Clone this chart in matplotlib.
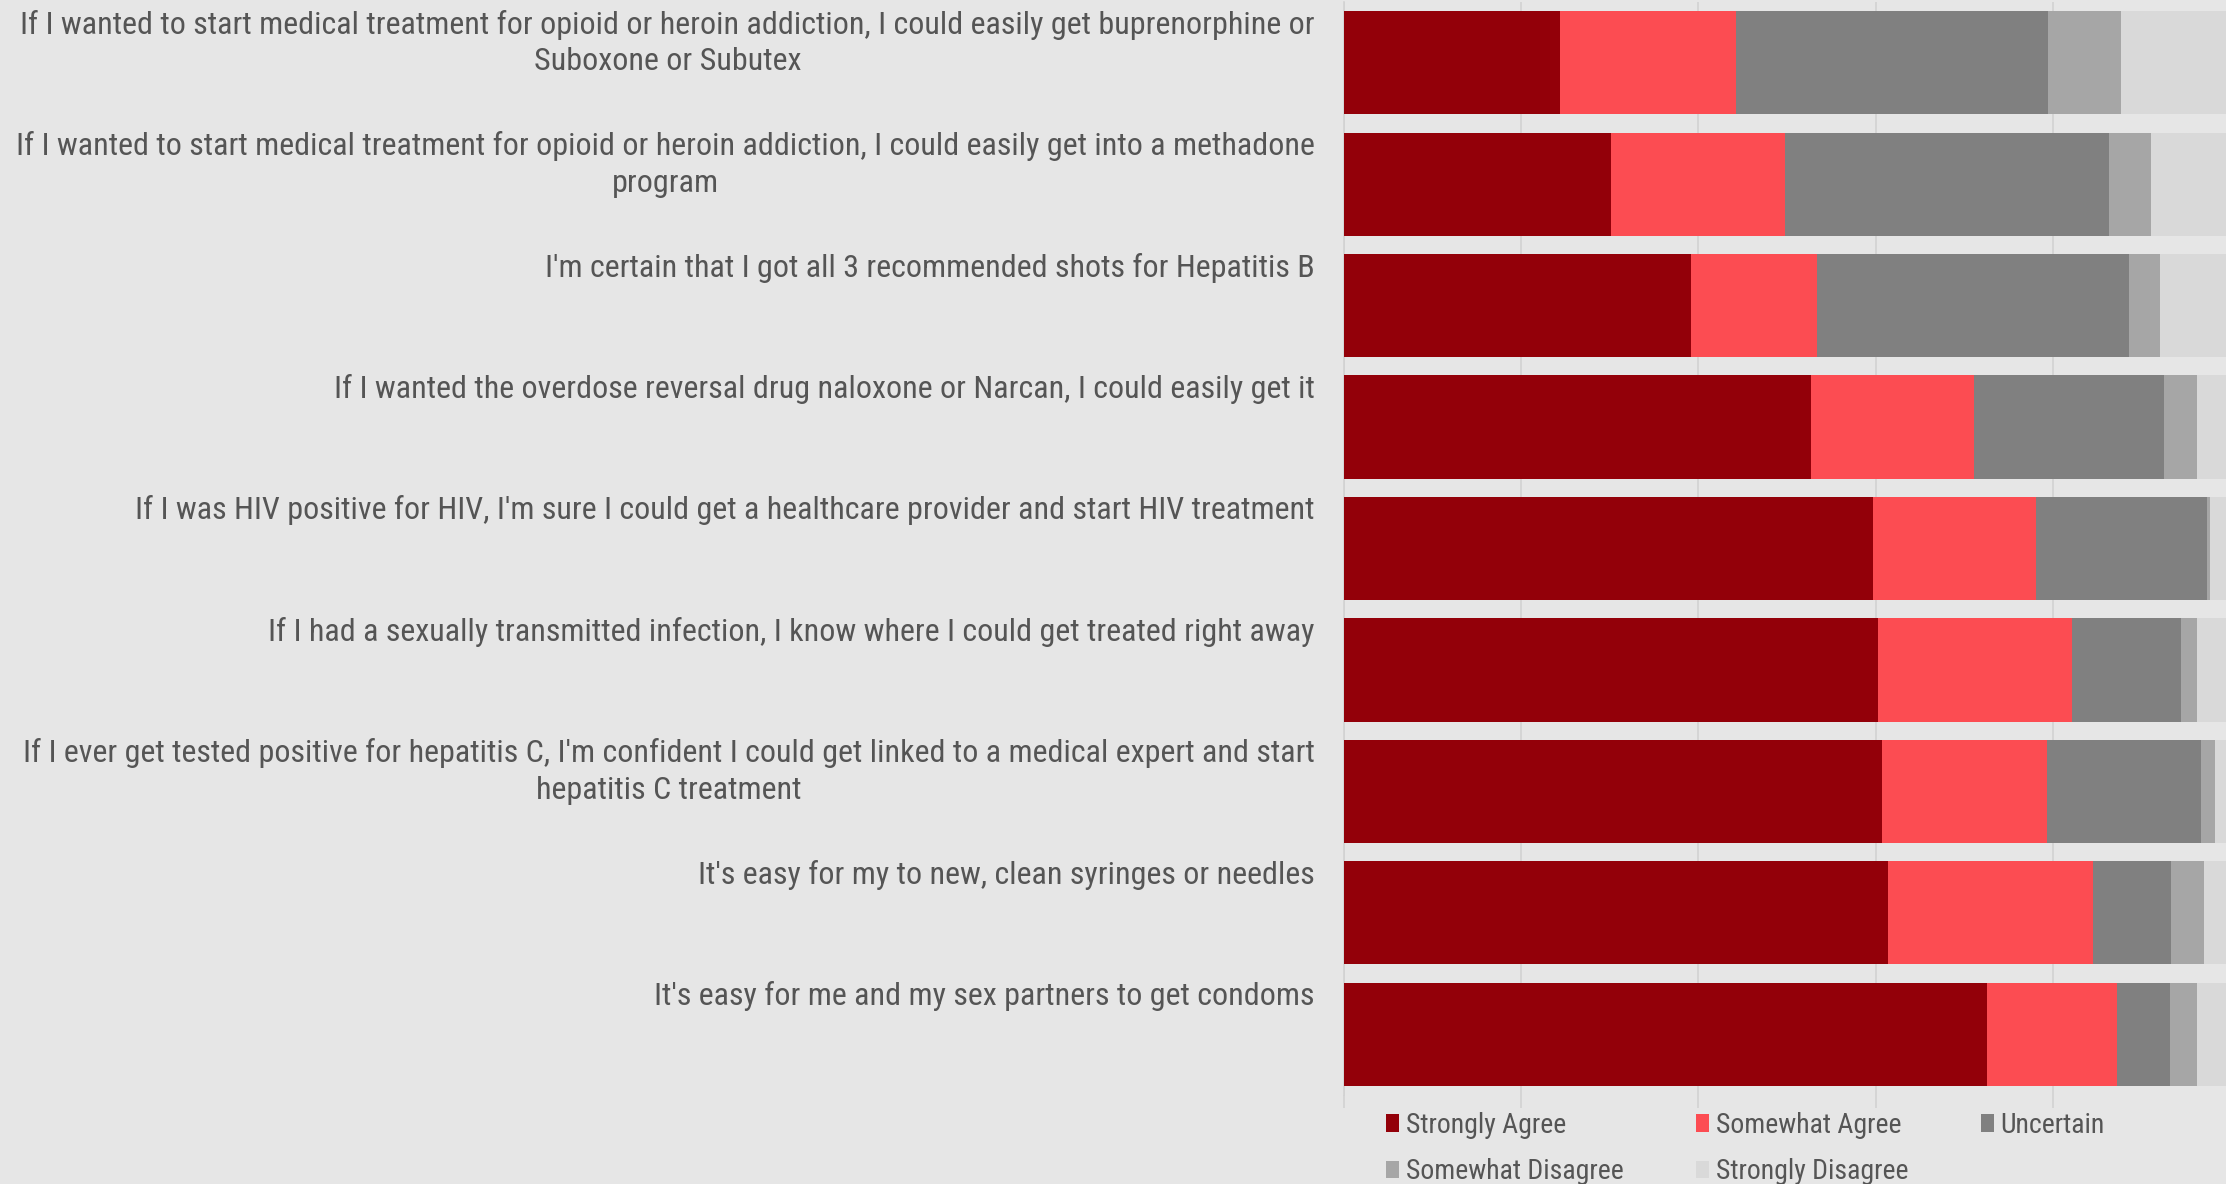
import matplotlib
matplotlib.use("Agg")
import matplotlib.pyplot as plt
from matplotlib.patches import Patch
import numpy as np

plt.rcParams['font.family'] = ['Roboto Condensed', 'Liberation Sans Narrow', 'Roboto', 'DejaVu Sans']

categories = [
    "If I wanted to start medical treatment for opioid or heroin addiction, I could easily get buprenorphine or\nSuboxone or Subutex",
    "If I wanted to start medical treatment for opioid or heroin addiction, I could easily get into a methadone\nprogram",
    "I'm certain that I got all 3 recommended shots for Hepatitis B",
    "If I wanted the overdose reversal drug naloxone or Narcan, I could easily get it",
    "If I was HIV positive for HIV, I'm sure I could get a healthcare provider and start HIV treatment",
    "If I had a sexually transmitted infection, I know where I could get treated right away",
    "If I ever get tested positive for hepatitis C, I'm confident I could get linked to a medical expert and start\nhepatitis C treatment",
    "It's easy for my to new, clean syringes or needles",
    "It's easy for me and my sex partners to get condoms",
]
series_names = ["Strongly Agree", "Somewhat Agree", "Uncertain", "Somewhat Disagree", "Strongly Disagree"]
strongly_agree = [24.4, 30.1, 39.2, 52.7, 59.7, 60.3, 60.7, 61.4, 72.6]
somewhat_agree = [19.8, 19.7, 14.2, 18.4, 18.4, 21.9, 18.7, 23.1, 14.7]
uncertain = [35.3, 36.5, 35.2, 21.4, 19.3, 12.3, 17.3, 8.8, 5.9]
somewhat_disagree = [8.2, 4.8, 3.5, 3.8, 0.3, 1.8, 1.6, 3.8, 3.1]
strongly_disagree = [12.3, 8.9, 7.9, 3.7, 2.3, 3.7, 1.7, 2.9, 3.7]
x_ticks = [0, 20, 40, 60, 80, 100]

colors = ["#930009", "#fc4c52", "#808080", "#a6a6a6", "#d9d9d9"]
bg = "#e6e6e6"
text_color = "#555555"

W, H = 2226, 1184
fig = plt.figure(figsize=(W / 100, H / 100), dpi=100, facecolor=bg)
ax_left, ax_right, ax_top, ax_bottom = 1344, 2230, 2, 1095
ax = fig.add_axes([ax_left / W, 1 - ax_bottom / H, (ax_right - ax_left) / W, (ax_bottom - ax_top) / H])
ax.set_facecolor(bg)

y = np.arange(len(categories))
left = np.zeros(len(categories))
bar_h = 0.85
for vals, name, c in zip([strongly_agree, somewhat_agree, uncertain, somewhat_disagree, strongly_disagree],
                         series_names, colors):
    ax.barh(y, vals, left=left, height=bar_h, color=c, label=name, zorder=3, linewidth=0)
    left += np.array(vals)

ax.set_xlim(0, 100)
ax.set_ylim(len(categories) - 0.5, -0.5)
ax.set_xticks(x_ticks)
ax.set_xticklabels([])
ax.set_yticks([])
ax.grid(axis='x', color="#d2d2d2", linewidth=1.2, zorder=0)
ax.tick_params(axis='x', length=9, color="#d2d2d2", width=1.2)
for s in ['top', 'right', 'bottom']:
    ax.spines[s].set_visible(False)
ax.spines['left'].set_color("#d2d2d2")
ax.spines['left'].set_linewidth(1.2)

for i, lab in enumerate(categories):
    ax.annotate(lab, xy=(0, i - bar_h / 2), xycoords=('axes fraction', 'data'),
                xytext=(-21, 1), textcoords='offset points',
                ha='right', va='top', multialignment='center',
                fontsize=23, color=text_color, linespacing=1.33)

# legend laid out row-wise: matplotlib fills columns first, so reorder
order = [0, 3, 1, 4, 2]
handles = [Patch(facecolor=colors[k], edgecolor='none') for k in order]
labels = [series_names[k] for k in order]
fig.legend(handles, labels, ncol=3, loc='upper left',
           bbox_to_anchor=(1372 / W, 1 - 1098 / H), frameon=False,
           fontsize=20, handlelength=0.47, handleheight=0.58, handletextpad=0.25,
           columnspacing=2.6, labelspacing=0.7, labelcolor=text_color, borderpad=0)

fig.savefig("out.png", dpi=100, facecolor=bg)
